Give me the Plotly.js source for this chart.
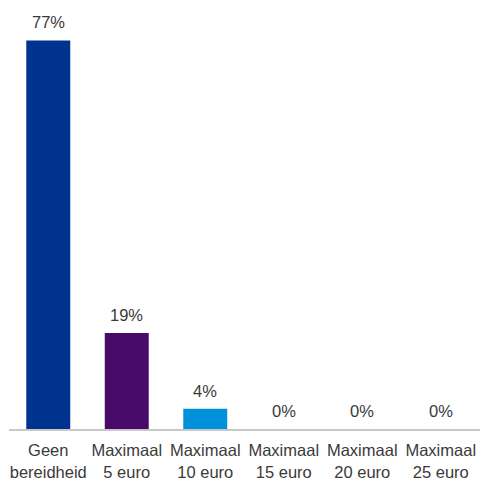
<!DOCTYPE html>
<html><head><meta charset="utf-8">
<script src="https://cdn.plot.ly/plotly-3.0.1.min.js"></script>
<style>html,body{margin:0;padding:0;background:#fff}</style>
</head><body><div id="chart" style="width:481px;height:482px"></div>
<script>
const categories = ["Geen<br>bereidheid","Maximaal<br>5 euro","Maximaal<br>10 euro","Maximaal<br>15 euro","Maximaal<br>20 euro","Maximaal<br>25 euro"];
const values = [77, 19, 4, 0, 0, 0];
const labels = ["77%","19%","4%","0%","0%","0%"];
const colors = ["#00338D","#470A68","#0091DA","#0091DA","#0091DA","#0091DA"];

const fontFam = "Liberation Sans, Arial, sans-serif";
const annotations = categories.map((c, i) => ({
  x: c, y: values[i], xref: "x", yref: "y",
  text: labels[i], showarrow: false, yanchor: "bottom", yshift: 7,
  font: {family: fontFam, size: 16.5, color: "#3a3a3a"}
}));

Plotly.newPlot("chart", [{
  type: "bar",
  x: categories,
  y: values,
  marker: {color: colors},
  hoverinfo: "none"
}], {
  width: 481, height: 482,
  margin: {l: 9, r: 1, t: 0, b: 53},
  paper_bgcolor: "#fff", plot_bgcolor: "#fff",
  bargap: 0.44,
  showlegend: false,
  annotations: annotations,
  font: {family: fontFam, size: 16.5, color: "#3a3a3a"},
  xaxis: {showline: true, linecolor: "#c8c8c8", linewidth: 1.5, ticks: "", showgrid: false,
          ticklabelstandoff: 6,
          tickfont: {family: fontFam, size: 16.5, color: "#3a3a3a"}, fixedrange: true},
  yaxis: {range: [0, 85], visible: false, showgrid: false, zeroline: false, fixedrange: true}
}, {displayModeBar: false, staticPlot: true});
</script></body></html>
